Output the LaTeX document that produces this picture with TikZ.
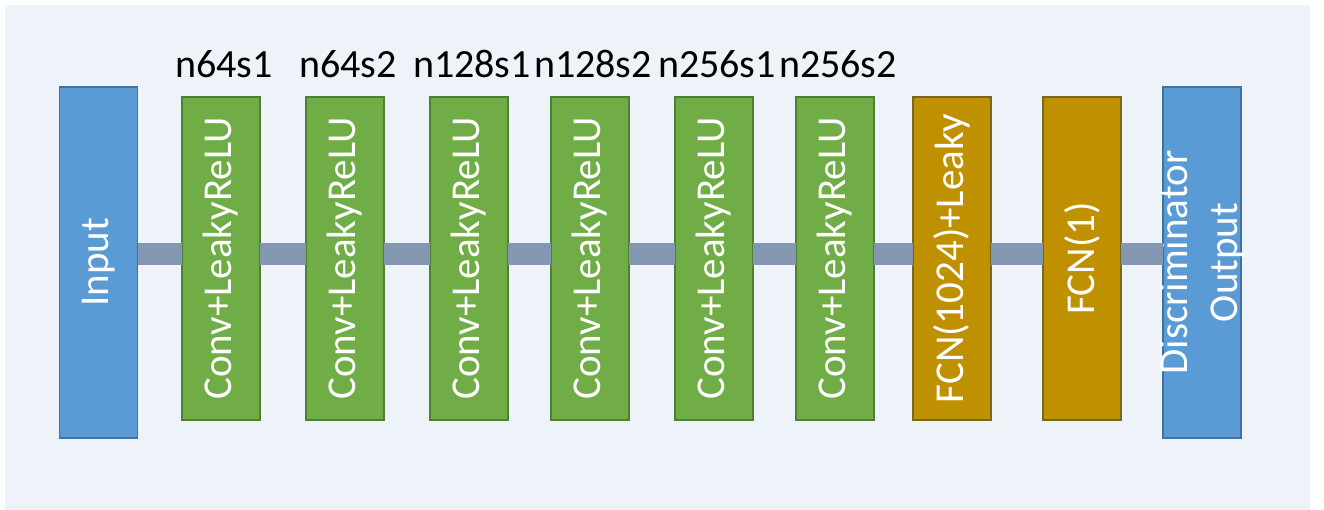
\documentclass[tikz,border=0pt]{standalone}
\usepackage{fontspec}
\setmainfont{Carlito}
\usetikzlibrary{positioning}
\definecolor{panelbg}{RGB}{238,243,250}
\definecolor{ioblue}{RGB}{91,155,213}
\definecolor{iobluedark}{RGB}{65,113,156}
\definecolor{convgreen}{RGB}{112,173,71}
\definecolor{convgreendark}{RGB}{80,126,50}
\definecolor{fcngold}{RGB}{191,144,0}
\definecolor{fcngolddark}{RGB}{115,105,35}
\definecolor{bargray}{RGB}{132,151,176}
\tikzset{
% boxes of the network
layerbox/.style={rectangle, line width=1.5pt, minimum width=78, text=white,
  font=\fontsize{41}{50}\selectfont},
iobox/.style={layerbox, fill=ioblue, draw=iobluedark, minimum height=351},
convbox/.style={layerbox, fill=convgreen, draw=convgreendark, minimum height=323},
fcnbox/.style={layerbox, fill=fcngold, draw=fcngolddark, minimum height=323},
toplabel/.style={anchor=base, font=\fontsize{40}{48}\selectfont},
bar/.style={draw=bargray, line width=22pt}
}
\begin{document}
\begin{tikzpicture}[x=1pt, y=-1pt, inner sep=0, outer sep=0]
  \useasboundingbox (0,0) rectangle (1324,510);
  \fill[panelbg] (5,5) rectangle (1310,510);

  \node[iobox] (in) at (98.5,262.5) {\rotatebox{90}{Input}};
  \node[convbox] (c1) at (221,258.5) {\rotatebox{90}{Conv+LeakyReLU}};
  \node[convbox] (c2) at (345,258.5) {\rotatebox{90}{Conv+LeakyReLU}};
  \node[convbox] (c3) at (469,258.5) {\rotatebox{90}{Conv+LeakyReLU}};
  \node[convbox] (c4) at (590,258.5) {\rotatebox{90}{Conv+LeakyReLU}};
  \node[convbox] (c5) at (714,258.5) {\rotatebox{90}{Conv+LeakyReLU}};
  \node[convbox] (c6) at (835,258.5) {\rotatebox{90}{Conv+LeakyReLU}};
  \node[fcnbox] (f1) at (952,258.5) {\rotatebox{90}{FCN(1024)+Leaky}};
  \node[fcnbox] (f2) at (1082,258.5) {\rotatebox{90}{FCN(1)}};
  \node[iobox] (out) at (1202,262.5)
    {\makebox[0pt]{\rotatebox{90}{\begin{tabular}{@{}c@{}}Discriminator\\Output\end{tabular}}}};

  % labels on top
  \node[toplabel] (l1) at ([xshift=3, yshift=19]c1.north) {n64s1};
  \node[toplabel] (l2) at ([xshift=3, yshift=19]c2.north) {n64s2};
  \node[toplabel] (l3) at ([xshift=3, yshift=19]c3.north) {n128s1};
  \node[toplabel] (l4) at ([xshift=3, yshift=19]c4.north) {n128s2};
  \node[toplabel] (l5) at ([xshift=3, yshift=19]c5.north) {n256s1};
  \node[toplabel] (l6) at ([xshift=3, yshift=19]c6.north) {n256s2};

  % connectors
  \draw[bar] ([yshift=8.5]in.east) -- ([yshift=4.5]c1.west);
  \foreach \a/\b in {c1/c2, c2/c3, c3/c4, c4/c5, c5/c6, c6/f1, f1/f2}
    \draw[bar] ([yshift=4.5]\a.east) -- ([yshift=4.5]\b.west);
  \draw[bar] ([yshift=4.5]f2.east) -- ([yshift=8.5]out.west);
\end{tikzpicture}
\end{document}
